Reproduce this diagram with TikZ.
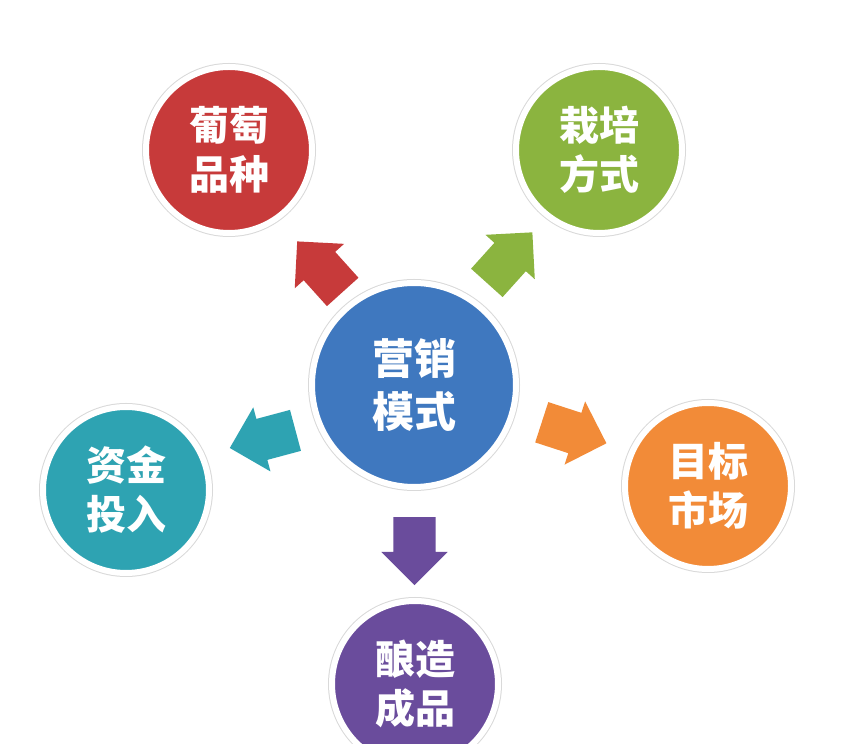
\documentclass[tikz,border=0pt]{standalone}
\usepackage{fontspec}
\newfontfamily\cjk{Noto Sans CJK SC}
\usetikzlibrary{shapes.arrows, calc}

\definecolor{hubblue}{HTML}{3F78BF}
\definecolor{grapered}{HTML}{C73A3A}
\definecolor{leafgreen}{HTML}{8BB43F}
\definecolor{cashteal}{HTML}{2EA3B2}
\definecolor{marketorange}{HTML}{F28B38}
\definecolor{winepurple}{HTML}{6A4C9C}

\tikzset{
  topic/.style={circle, inner sep=0pt, minimum size=166pt, fill=#1,
    draw=white, line width=6pt, preaction={draw=black!15, line width=8pt},
    text=white, align=center, font=\cjk\bfseries\fontsize{40}{49}\selectfont},
  pointer/.style={single arrow, inner xsep=0pt, inner ysep=21pt, fill=#1,
    minimum height=68pt, single arrow head extend=12pt}
}

\begin{document}
\begin{tikzpicture}[x=1pt, y=1pt]
    \useasboundingbox (0,0) rectangle (846,744);
    \fill[white] (0,0) rectangle (846,744);

    % Centre and the five topics
    \node[topic=hubblue, minimum size=204pt, font=\cjk\bfseries\fontsize{42}{53}\selectfont] (hub) at (414,359) {营销\\模式};
    \node[topic=grapered] (grape) at (229,594) {葡萄\\品种};
    \node[topic=leafgreen] (grow) at (599,594) {栽培\\方式};
    \node[topic=cashteal] (fund) at (126,254) {资金\\投入};
    \node[topic=marketorange] (market) at (708,258) {目标\\市场};
    \node[topic=winepurple] (brew) at (415,60) {酿造\\成品};

    % Block arrows between them
    \node[pointer=grapered, rotate=132] (togrape) at ($(hub)!0.47!(grape)$) {};
    \node[pointer=leafgreen, rotate=48] (togrow) at ($(hub)!0.5!(grow)+(-4,2)$) {};
    \node[pointer=cashteal, rotate=195] (tofund) at ($(hub)!0.49!(fund)$) {};
    \node[pointer=marketorange, rotate=-18] (tomarket) at ($(hub)!0.5!(market)+(3,6)$) {};
    \node[pointer=winepurple, rotate=-90] (tobrew) at ($(hub)!0.52!(brew)$) {};
\end{tikzpicture}
\end{document}
